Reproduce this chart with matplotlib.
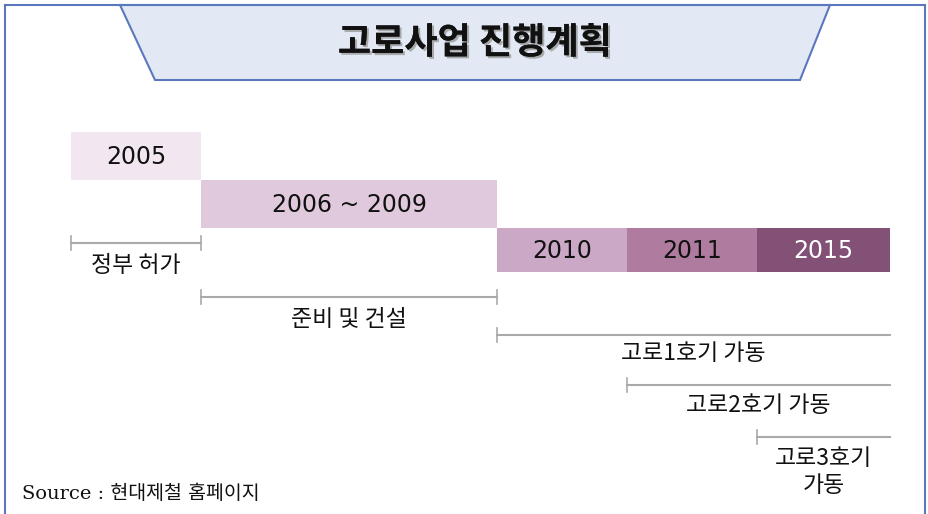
import numpy as np
import matplotlib.pyplot as plt
from matplotlib.patches import Polygon
import matplotlib.patheffects as pe

plt.rcParams['font.family'] = ['Noto Sans CJK KR', 'DejaVu Sans']

# Timeline periods (x in "year slot" units, 1 slot = one column of the chart)
period_labels = ['2005', '2006 ~ 2009', '2010', '2011', '2015']
period_start = [0.0, 1.0, 3.28, 4.28, 5.28]
period_end = [1.0, 3.28, 4.28, 5.28, 6.30]
period_row = [0, 1, 2, 2, 2]
period_colors = ['#F2E7F0', '#E0C9DC', '#CBA8C5', '#AF7CA0', '#835176']
period_text = ['#111111', '#111111', '#111111', '#111111', '#FFFFFF']

# Milestone brackets
event_labels = ['정부 허가', '준비 및 건설', '고로1호기 가동', '고로2호기 가동', '고로3호기\n가동']
event_start = [0.0, 1.0, 3.28, 4.28, 5.28]
event_end = [1.0, 3.28, 6.30, 6.30, 6.30]
event_right_tick = [True, True, False, False, False]

W, H = 929, 514
fig = plt.figure(figsize=(W / 100, H / 100), dpi=100)
ax = fig.add_axes([0, 0, 1, 1])
ax.set_xlim(0, W)
ax.set_ylim(H, 0)
ax.axis('off')

# map slots to pixels
x0, slot = 71, 130.0
def px(v):
    return x0 + v * slot

# outer frame
frame = '#5B78BE'
ax.plot([5, 5], [5, H], color=frame, lw=1.5)
ax.plot([925, 925], [5, H], color=frame, lw=1.5)
ax.plot([5, 925], [5, 5], color=frame, lw=1.5)

# title banner
ax.add_patch(Polygon([[120, 5], [830, 5], [800, 80], [155, 80]], closed=True,
                     facecolor='#E3E9F4', edgecolor=frame, lw=1.5))
ax.text(475, 43, '고로사업 진행계획', ha='center', va='center', fontsize=26,
        fontweight='bold', color='#111111',
        path_effects=[pe.withSimplePatchShadow(offset=(1.5, -1.5), shadow_rgbFace='#999999', alpha=0.8), pe.Normal()])

# period bars
row_top = [132, 180, 228]
row_h = [48, 48, 44]
for lab, s, e, r, c, tc in zip(period_labels, period_start, period_end, period_row, period_colors, period_text):
    ax.barh(row_top[r] + row_h[r] / 2, px(e) - px(s), height=row_h[r], left=px(s), color=c)
    ax.text((px(s) + px(e)) / 2, row_top[r] + row_h[r] / 2 + 1, lab, ha='center', va='center',
            fontsize=17, color=tc, family=['DejaVu Sans'])

# milestone brackets
line_y = [243, 297, 335, 385, 437]
text_y = [265, 320, 353, 405, 472]
grey = '#AAAAAA'
for lab, s, e, rt, ly, ty in zip(event_labels, event_start, event_end, event_right_tick, line_y, text_y):
    ax.plot([px(s), px(e)], [ly, ly], color=grey, lw=1.5)
    ax.plot([px(s), px(s)], [ly - 7, ly + 7], color=grey, lw=1.2)
    if rt:
        ax.plot([px(e), px(e)], [ly - 7, ly + 7], color=grey, lw=1.2)
    ax.text((px(s) + px(e)) / 2, ty, lab, ha='center', va='center', fontsize=16.5,
            color='#111111', linespacing=1.25, fontweight='medium')

ax.text(22, 494, 'Source : 현대제철 홈페이지', ha='left', va='center', fontsize=14,
        color='#111111', family=['DejaVu Serif', 'Noto Sans CJK KR'])

fig.savefig('out.png', dpi=100)
